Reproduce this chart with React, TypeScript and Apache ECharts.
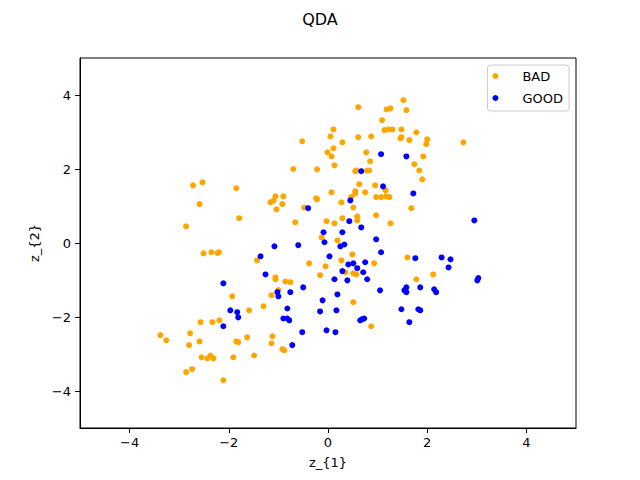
import React, { useEffect, useRef } from 'react';
import * as echarts from 'echarts';

// values (z_{1}, z_{2})
const badPoints: number[][] = [
  [-0.70, 2.00], [-2.72, 1.56], [-2.53, 1.64], [-1.85, 1.48], [-2.59, 1.05],
  [-1.06, 1.26], [-0.90, 1.26], [-1.16, 1.10], [-1.10, 1.14], [-0.92, 1.05],
  [-1.04, 0.91], [-1.79, 0.67], [-0.66, 0.56], [-2.86, 0.45], [-2.51, -0.28],
  [-2.35, -0.25], [-2.23, -0.27], [-2.20, -0.25], [-1.43, -0.47],
  [-1.06, -0.93], [-1.06, -0.98], [-0.86, -1.04], [-0.76, -1.06], [-1.00, -1.27],
  [-1.14, -1.41], [-1.93, -1.44], [-1.30, -1.71], [-1.59, -1.82], [-2.57, -2.14],
  [-2.33, -2.14], [-2.19, -2.09], [-2.78, -2.44], [-3.38, -2.49], [-3.26, -2.63],
  [-2.59, -2.66], [-2.80, -2.76], [-1.85, -2.66], [-1.81, -2.68], [-1.63, -2.55],
  [-1.12, -2.52], [-1.14, -2.71], [-0.92, -2.87], [-0.88, -2.90], [-2.55, -3.09],
  [-2.43, -3.12], [-2.37, -3.04], [-2.31, -3.12], [-1.91, -3.09], [-1.49, -3.04],
  [-2.86, -3.49], [-2.74, -3.41], [-2.11, -3.71],
  [1.52, 3.86], [0.61, 3.67], [1.18, 3.61], [1.26, 3.64], [1.58, 3.59],
  [1.09, 3.32], [1.14, 3.05], [1.22, 3.07], [1.30, 3.07], [1.48, 3.07],
  [1.78, 2.99], [0.11, 3.07], [0.05, 2.88], [0.61, 2.86], [0.87, 2.88],
  [1.46, 2.83], [1.48, 2.86], [1.64, 2.78], [2.00, 2.80], [1.98, 2.67],
  [-0.52, 2.75], [0.29, 2.72], [0.11, 2.56], [-0.01, 2.45], [0.07, 2.34],
  [0.77, 2.45], [1.92, 2.34], [0.85, 2.21], [1.74, 2.13], [0.13, 2.10],
  [1.84, 1.96], [-0.22, 1.99], [0.55, 1.94], [0.57, 1.96], [0.79, 1.96],
  [0.83, 1.96], [1.90, 1.72], [0.63, 1.59], [0.95, 1.56], [1.16, 1.42],
  [0.07, 1.37], [0.55, 1.40], [0.55, 1.34], [0.75, 1.37], [-0.24, 1.21],
  [-0.22, 1.18], [0.47, 1.24], [0.27, 1.10], [0.97, 1.24], [1.07, 1.24],
  [1.17, 1.26], [1.24, 1.24], [0.51, 0.96], [1.68, 0.94], [-0.48, 0.96],
  [2.73, 2.72],
  [-0.03, 0.59], [0.13, 0.53], [0.29, 0.67], [0.59, 0.72], [0.59, 0.61],
  [0.97, 0.75], [1.26, 0.53], [-0.13, 0.15], [0.19, 0.07], [0.49, -0.31],
  [0.27, -0.47], [1.60, -0.39], [-0.38, -0.55], [0.93, -0.55], [-0.05, -0.63],
  [0.35, -0.79], [0.51, -0.82], [0.57, -0.85], [-0.16, -0.87], [1.78, -0.98],
  [2.12, -0.85], [0.51, -1.60], [0.87, -2.25],
];

const goodPoints: number[][] = [
  [-1.08, -0.09], [-0.60, -0.06], [-1.36, -0.36], [-1.26, -0.85], [-2.11, -1.09],
  [-1.02, -1.33], [-1.00, -1.44], [-0.76, -1.33], [-0.82, -1.77], [-1.97, -1.82],
  [-1.83, -1.87], [-1.81, -2.01], [-0.90, -2.04], [-0.82, -2.04], [-0.78, -2.09],
  [-2.11, -2.25], [-0.72, -2.76],
  [1.07, 2.40], [1.58, 2.34], [0.67, 1.94], [1.11, 1.53], [1.72, 1.34],
  [0.45, 1.15], [-0.40, 0.94], [0.43, 0.59], [0.67, 0.42], [-0.09, 0.29],
  [0.29, 0.29], [-0.07, 0.02], [0.25, -0.09], [0.33, -0.04], [0.97, 0.10],
  [1.07, -0.25], [0.03, -0.36], [1.76, -0.41], [0.41, -0.58], [0.51, -0.55],
  [0.75, -0.52], [0.59, -0.68], [0.29, -0.76], [0.71, -0.79], [0.13, -0.98],
  [0.39, -1.01], [0.79, -0.98], [-0.50, -1.20], [0.19, -1.39], [1.05, -1.28],
  [1.54, -1.28], [1.58, -1.33], [1.58, -1.20], [1.86, -1.20], [2.14, -1.25],
  [2.18, -1.33], [-0.11, -1.55], [-0.16, -1.85], [0.17, -1.82], [1.48, -1.79],
  [1.82, -1.79], [1.86, -1.82], [1.64, -2.14], [0.65, -2.09], [0.69, -2.06],
  [0.73, -2.04], [-0.52, -2.41], [-0.03, -2.36], [0.15, -2.41],
  [2.95, 0.61], [2.29, -0.39], [2.47, -0.44], [2.43, -0.66], [3.03, -0.95],
  [3.01, -1.01],
];

const xTicks = [-4, -2, 0, 2, 4];
const yTicks = [-4, -2, 0, 2, 4];

const FONT = 'DejaVu Sans';
const fmt = (v: number) => (v < 0 ? '\u2212' + Math.abs(v) : String(v));

const App: React.FC = () => {
  const chartRef = useRef<HTMLDivElement | null>(null);

  useEffect(() => {
    if (!chartRef.current) return;
    const chart = echarts.init(chartRef.current, undefined, { renderer: 'svg' });

    const axisCommon = {
      type: 'value',
      min: -5,
      max: 5,
      splitLine: { show: false },
      axisLine: { show: true, onZero: false, lineStyle: { color: '#000', width: 1 } },
      axisTick: { show: true, inside: false, length: 5, lineStyle: { color: '#000' } },
      nameTextStyle: { color: '#000', fontFamily: FONT, fontSize: 13 },
    };

    chart.setOption({
      animation: false,
      backgroundColor: '#fff',
      textStyle: { fontFamily: FONT },
      title: {
        text: 'QDA',
        left: 'center',
        top: 6,
        textStyle: { fontFamily: FONT, fontSize: 16, fontWeight: 'normal', color: '#000' },
      },
      legend: {
        orient: 'vertical',
        right: 71,
        top: 65,
        padding: [3, 6, 5, 5],
        itemGap: 6,
        itemWidth: 28,
        itemHeight: 6,
        borderColor: '#cccccc',
        borderWidth: 1,
        borderRadius: 3,
        backgroundColor: 'rgba(255,255,255,0.8)',
        textStyle: {
          fontFamily: FONT,
          fontSize: 13,
          color: '#000',
          lineHeight: 16,
          padding: [0, 0, 0, 8],
        },
        data: [
          { name: 'BAD', icon: 'circle' },
          { name: 'GOOD', icon: 'circle' },
        ],
      },
      grid: {
        left: 80,
        right: 64,
        top: 58,
        bottom: 52,
        show: true,
        borderColor: '#000',
        borderWidth: 1,
      },
      xAxis: {
        ...axisCommon,
        name: 'z_{1}',
        nameLocation: 'middle',
        nameGap: 28,
        axisTick: { ...axisCommon.axisTick, customValues: xTicks },
        axisLabel: {
          customValues: xTicks,
          margin: 8,
          color: '#000',
          fontFamily: FONT,
          fontSize: 13,
          formatter: fmt,
        },
      },
      yAxis: {
        ...axisCommon,
        name: 'z_{2}',
        nameLocation: 'middle',
        nameGap: 35,
        axisTick: { ...axisCommon.axisTick, customValues: yTicks },
        axisLabel: {
          customValues: yTicks,
          margin: 9,
          color: '#000',
          fontFamily: FONT,
          fontSize: 13,
          formatter: fmt,
        },
      },
      series: [
        {
          name: 'BAD',
          type: 'scatter',
          symbol: 'circle',
          symbolSize: 6,
          itemStyle: { color: '#ffa500', opacity: 1 },
          data: badPoints,
        },
        {
          name: 'GOOD',
          type: 'scatter',
          symbol: 'circle',
          symbolSize: 6,
          itemStyle: { color: '#0000ff', opacity: 1 },
          data: goodPoints,
        },
      ],
    });

    return () => {
      chart.dispose();
    };
  }, []);

  return (
    <div
      ref={chartRef}
      style={{ position: 'fixed', left: 0, top: 0, width: '640px', height: '480px' }}
    />
  );
};

export default App;
